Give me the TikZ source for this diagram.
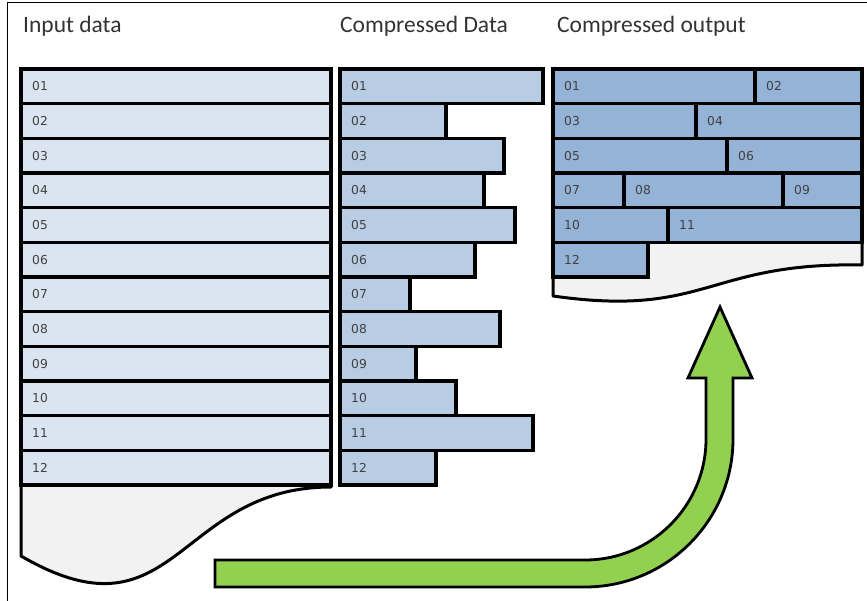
\documentclass[tikz,border=0pt]{standalone}
\usepackage{fontspec}
\setmainfont{Carlito}
\newfontfamily\numfont{DejaVu Sans}
\definecolor{inputblue}{HTML}{DBE5F1}
\definecolor{midblue}{HTML}{B8CCE4}
\definecolor{outblue}{HTML}{95B3D7}
\definecolor{paper}{HTML}{F2F2F2}
\definecolor{arrowgreen}{HTML}{92D050}
\definecolor{titlegrey}{HTML}{333333}
\definecolor{numgrey}{HTML}{404040}
\tikzset{
  cellbox/.style={rectangle, draw=black, line width=3.2pt, inner sep=0pt, outer sep=0pt,
    anchor=north west, minimum height=34.67pt},
  inputcell/.style={cellbox, fill=inputblue},
  midcell/.style={cellbox, fill=midblue},
  outcell/.style={cellbox, fill=outblue},
  numtext/.style={anchor=west, inner sep=0pt, font=\numfont\fontsize{12.3pt}{14pt}\selectfont, text=numgrey},
  title/.style={anchor=base west, inner sep=0pt, font=\fontsize{23.5pt}{27pt}\selectfont, text=titlegrey},
  docshape/.style={draw=black, line width=3pt, fill=paper, line join=round},
  frameline/.style={draw=black, line width=1pt},
  bigarrow/.style={draw=black, line width=2.8pt, fill=arrowgreen, line join=miter},
}
\begin{document}
\begin{tikzpicture}[x=1pt, y=-1pt]
\useasboundingbox (0,0) rectangle (867,601);
\fill[white] (0,0) rectangle (867,601);

% outer frame
\draw[frameline] (867,3) -- (7,3) -- (7,601);

% column headings
\node[title] (tin)  at (23,33)  {Input data};
\node[title] (tmid) at (340,33) {Compressed Data};
\node[title] (tout) at (557,33) {Compressed output};

% document outlines
\draw[docshape] (21,69) -- (331,69) -- (331,487)
  .. controls (176,487) and (176,646) .. (21,556) -- cycle;
\draw[docshape] (553,69) -- (862,69) -- (862,265)
  .. controls (707,262) and (707,318) .. (553,296) -- cycle;

% input records
\foreach \i/\lab in {0/01,1/02,2/03,3/04,4/05,5/06,6/07,7/08,8/09,9/10,10/11,11/12}{
  \node[inputcell, minimum width=310pt] (in\lab) at (21,{69+\i*34.67}) {};
  \node[numtext] (in\lab t) at ([xshift=11pt]in\lab.west) {\lab};
}

% compressed records
\foreach \i/\lab/\w in {0/01/203,1/02/106,2/03/164,3/04/144,4/05/175,5/06/135,
                        6/07/70,7/08/160,8/09/76,9/10/116,10/11/193,11/12/96}{
  \node[midcell, minimum width=\w pt] (cd\lab) at (340,{69+\i*34.67}) {};
  \node[numtext] (cd\lab t) at ([xshift=11pt]cd\lab.west) {\lab};
}

% packed output
\foreach \r/\lab/\x/\w in {0/01/553/202,0/02/755/107,1/03/553/143,1/04/696/166,
                           2/05/553/174,2/06/727/135,3/07/553/71,3/08/624/159,
                           3/09/783/79,4/10/553/115,4/11/668/194,5/12/553/95}{
  \node[outcell, minimum width=\w pt] (co\lab) at (\x,{69+\r*34.67}) {};
  \node[numtext] (co\lab t) at ([xshift=11pt]co\lab.west) {\lab};
}

% curved arrow
\draw[bigarrow] (215,560) -- (585,560)
  .. controls (651.8,560) and (706,505.8) .. (706,439)
  -- (706,378) -- (688,378) -- (720,307) -- (752,378) -- (733,378) -- (733,439)
  .. controls (733,520.7) and (666.7,587) .. (585,587)
  -- (215,587) -- cycle;
\end{tikzpicture}
\end{document}
